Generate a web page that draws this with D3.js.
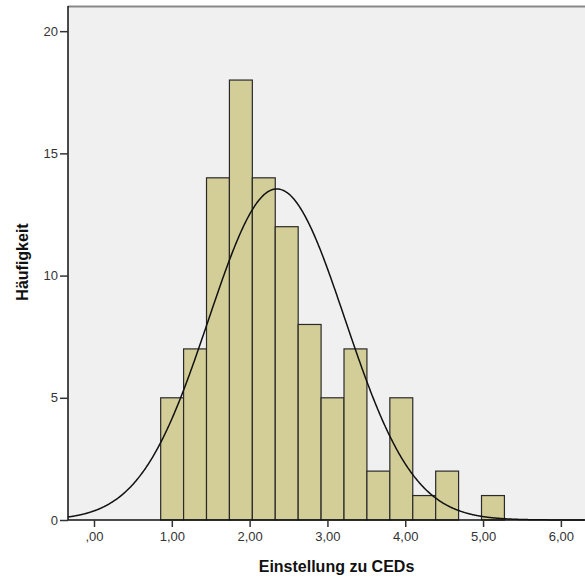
<!DOCTYPE html>
<html><head><meta charset="utf-8">
<script src="https://cdn.jsdelivr.net/npm/d3@7"></script>
<style>body{margin:0;background:#fff}svg{display:block}text{font-family:"Liberation Sans",Arial,sans-serif}</style>
</head><body><svg id="c" width="585" height="580"></svg>
<script>
const binStart = 0.857, binWidth = 0.2945;
const counts = [5,7,14,18,14,12,8,5,7,2,5,1,2,0,1];
const xTicks = [0,1,2,3,4,5,6];
const xTickLabels = [",00","1,00","2,00","3,00","4,00","5,00","6,00"];
const yTicks = [0,5,10,15,20];
const fitMean = 2.35, fitSD = 0.876, nTotal = 101;

const svg = d3.select("#c");
const m = {l:68, t:6, r:585, b:520};
const x = d3.scaleLinear().domain([-0.334, 6.31]).range([m.l, m.r]);
const y = d3.scaleLinear().domain([0, 21.03]).range([m.b, m.t]);

svg.append("rect").attr("x",m.l).attr("y",m.t).attr("width",m.r-m.l).attr("height",m.b-m.t).attr("fill","#f0f0f0");
svg.append("line").attr("x1",m.l).attr("x2",m.r).attr("y1",m.t+0.5).attr("y2",m.t+0.5).attr("stroke","#888").attr("stroke-width",2);

const bins = counts.map((c,i)=>({x0:binStart+i*binWidth, x1:binStart+(i+1)*binWidth, c}));
svg.append("g").selectAll("rect").data(bins.filter(d=>d.c>0)).join("rect")
  .attr("x",d=>x(d.x0)).attr("width",d=>x(d.x1)-x(d.x0))
  .attr("y",d=>y(d.c)).attr("height",d=>y(0)-y(d.c))
  .attr("fill","#d3ce98").attr("stroke","#2a2a2a").attr("stroke-width",1.2);

const peak = nTotal*binWidth/(fitSD*Math.sqrt(2*Math.PI));
const pts = d3.range(-0.334, 6.31, 0.01).map(v=>[v, peak*Math.exp(-0.5*((v-fitMean)/fitSD)**2)]);
svg.append("path").datum(pts).attr("fill","none").attr("stroke","#111").attr("stroke-width",1.5)
  .attr("d", d3.line().x(d=>x(d[0])).y(d=>y(d[1])).curve(d3.curveBasis));

const ya = svg.append("g").attr("transform",`translate(${m.l},0)`)
  .call(d3.axisLeft(y).tickValues(yTicks).tickSize(8).tickPadding(2).tickFormat(d3.format("d")));
ya.select(".domain").attr("d",`M0,${m.t}V${m.b}`).attr("stroke","#111").attr("stroke-width",1.5);
const xa = svg.append("g").attr("transform",`translate(0,${m.b})`)
  .call(d3.axisBottom(x).tickValues(xTicks).tickSize(7).tickPadding(5).tickFormat((d,i)=>xTickLabels[i]));
xa.select(".domain").attr("d",`M${m.l},0H${m.r}`).attr("stroke","#111").attr("stroke-width",1.5);
svg.selectAll(".tick line").attr("stroke","#333").attr("stroke-width",1.5);
svg.selectAll(".tick text").attr("font-size",13).attr("fill","#333").attr("font-family","Liberation Sans, Arial, sans-serif");

svg.append("text").attr("x",(m.l+m.r)/2+10).attr("y",572).attr("text-anchor","middle")
  .attr("font-size",16).attr("font-weight","bold").attr("fill","#111").text("Einstellung zu CEDs");
svg.append("text").attr("transform",`translate(28,262) rotate(-90)`).attr("text-anchor","middle")
  .attr("font-size",16).attr("font-weight","bold").attr("fill","#111").text("Häufigkeit");
</script></body></html>
